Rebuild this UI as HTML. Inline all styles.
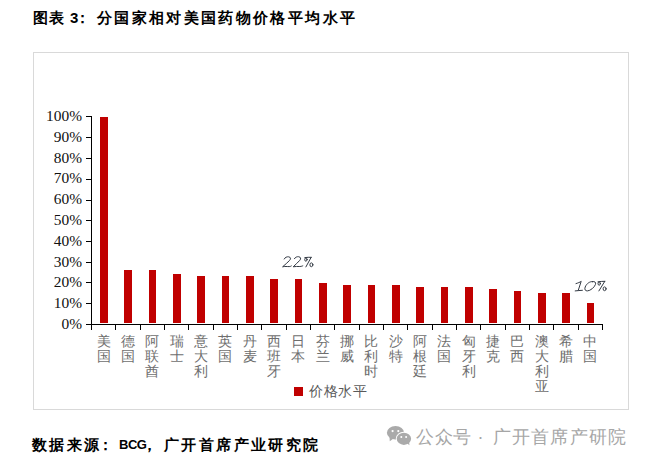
<!DOCTYPE html>
<html><head><meta charset="utf-8"><style>
html,body{margin:0;padding:0;background:#fff;}
body{width:646px;height:463px;position:relative;overflow:hidden;font-family:"Liberation Serif",serif;}
.abs{position:absolute;}
.title{position:absolute;left:33px;top:9px;font-size:15px;font-weight:bold;color:#000;letter-spacing:2.35px;white-space:nowrap;line-height:18px;font-family:"Liberation Sans",sans-serif;}
.foot{position:absolute;left:32px;top:435.5px;font-size:15px;font-weight:bold;color:#000;letter-spacing:2.4px;white-space:nowrap;line-height:18px;font-family:"Liberation Sans",sans-serif;}
.frame{position:absolute;left:33px;top:52px;width:594px;height:356px;border:1px solid #d9d9d9;}
.yl{position:absolute;right:564px;font-size:15.4px;line-height:17px;color:#111;white-space:nowrap;font-family:"Liberation Serif",serif;}
.cat{position:absolute;top:334px;width:16px;text-align:center;font-size:14px;line-height:14.9px;color:#6e6e6e;font-family:"Liberation Sans",sans-serif;}
.cat span{display:block;}
.ann{position:absolute;font-style:italic;font-size:17px;color:#333;font-family:"Liberation Serif",serif;letter-spacing:0px;white-space:nowrap;line-height:16px;}
.leg{position:absolute;left:309px;top:383px;font-size:14px;line-height:16px;letter-spacing:0.5px;color:#595959;font-family:"Liberation Sans",sans-serif;white-space:nowrap;}
.wm{position:absolute;left:416px;top:427px;font-size:18px;line-height:21px;color:#a6a6a6;letter-spacing:0.6px;white-space:nowrap;font-family:"Liberation Sans",sans-serif;}
svg{position:absolute;left:0;top:0;}
.t2{letter-spacing:0;}
.bcg{letter-spacing:-0.5px;font-size:13px;}
</style></head><body>
<div class="title" style="left:33px;letter-spacing:0.5px">图表</div><div class="title t2" style="left:70px">3</div><div class="title t2" style="left:75px">：</div><div class="title" style="left:97px">分国家相对美国药物价格平均水平</div>
<div class="frame"></div>
<svg width="646" height="463" viewBox="0 0 646 463" shape-rendering="crispEdges">
<rect x="100.07" y="117.00" width="7.6" height="206" fill="#c00000"/><rect x="124.40" y="270.00" width="7.6" height="53" fill="#c00000"/><rect x="148.73" y="270.00" width="7.6" height="53" fill="#c00000"/><rect x="173.07" y="274.00" width="7.6" height="49" fill="#c00000"/><rect x="197.40" y="276.00" width="7.6" height="47" fill="#c00000"/><rect x="221.73" y="276.00" width="7.6" height="47" fill="#c00000"/><rect x="246.07" y="276.00" width="7.6" height="47" fill="#c00000"/><rect x="270.40" y="279.00" width="7.6" height="44" fill="#c00000"/><rect x="294.73" y="279.00" width="7.6" height="44" fill="#c00000"/><rect x="319.07" y="283.00" width="7.6" height="40" fill="#c00000"/><rect x="343.40" y="285.00" width="7.6" height="38" fill="#c00000"/><rect x="367.73" y="285.00" width="7.6" height="38" fill="#c00000"/><rect x="392.07" y="285.00" width="7.6" height="38" fill="#c00000"/><rect x="416.40" y="287.00" width="7.6" height="36" fill="#c00000"/><rect x="440.73" y="287.00" width="7.6" height="36" fill="#c00000"/><rect x="465.07" y="287.00" width="7.6" height="36" fill="#c00000"/><rect x="489.40" y="289.00" width="7.6" height="34" fill="#c00000"/><rect x="513.73" y="291.00" width="7.6" height="32" fill="#c00000"/><rect x="538.07" y="293.00" width="7.6" height="30" fill="#c00000"/><rect x="562.40" y="293.00" width="7.6" height="30" fill="#c00000"/><rect x="586.73" y="303.00" width="7.6" height="20" fill="#c00000"/><line x1="91.5" y1="116.5" x2="91.5" y2="330.0" stroke="#000" stroke-width="1"/><line x1="86" y1="324.5" x2="91.5" y2="324.5" stroke="#000" stroke-width="1"/><line x1="86" y1="303.5" x2="91.5" y2="303.5" stroke="#000" stroke-width="1"/><line x1="86" y1="282.5" x2="91.5" y2="282.5" stroke="#000" stroke-width="1"/><line x1="86" y1="262.5" x2="91.5" y2="262.5" stroke="#000" stroke-width="1"/><line x1="86" y1="241.5" x2="91.5" y2="241.5" stroke="#000" stroke-width="1"/><line x1="86" y1="220.5" x2="91.5" y2="220.5" stroke="#000" stroke-width="1"/><line x1="86" y1="200.5" x2="91.5" y2="200.5" stroke="#000" stroke-width="1"/><line x1="86" y1="179.5" x2="91.5" y2="179.5" stroke="#000" stroke-width="1"/><line x1="86" y1="158.5" x2="91.5" y2="158.5" stroke="#000" stroke-width="1"/><line x1="86" y1="137.5" x2="91.5" y2="137.5" stroke="#000" stroke-width="1"/><line x1="86" y1="116.5" x2="91.5" y2="116.5" stroke="#000" stroke-width="1"/><line x1="91.5" y1="324.5" x2="603.0" y2="324.5" stroke="#000" stroke-width="1"/><line x1="91.5" y1="324.5" x2="91.5" y2="330.0" stroke="#000" stroke-width="1"/><line x1="115.5" y1="324.5" x2="115.5" y2="330.0" stroke="#000" stroke-width="1"/><line x1="140.5" y1="324.5" x2="140.5" y2="330.0" stroke="#000" stroke-width="1"/><line x1="164.5" y1="324.5" x2="164.5" y2="330.0" stroke="#000" stroke-width="1"/><line x1="188.5" y1="324.5" x2="188.5" y2="330.0" stroke="#000" stroke-width="1"/><line x1="213.5" y1="324.5" x2="213.5" y2="330.0" stroke="#000" stroke-width="1"/><line x1="237.5" y1="324.5" x2="237.5" y2="330.0" stroke="#000" stroke-width="1"/><line x1="261.5" y1="324.5" x2="261.5" y2="330.0" stroke="#000" stroke-width="1"/><line x1="286.5" y1="324.5" x2="286.5" y2="330.0" stroke="#000" stroke-width="1"/><line x1="310.5" y1="324.5" x2="310.5" y2="330.0" stroke="#000" stroke-width="1"/><line x1="334.5" y1="324.5" x2="334.5" y2="330.0" stroke="#000" stroke-width="1"/><line x1="359.5" y1="324.5" x2="359.5" y2="330.0" stroke="#000" stroke-width="1"/><line x1="383.5" y1="324.5" x2="383.5" y2="330.0" stroke="#000" stroke-width="1"/><line x1="407.5" y1="324.5" x2="407.5" y2="330.0" stroke="#000" stroke-width="1"/><line x1="432.5" y1="324.5" x2="432.5" y2="330.0" stroke="#000" stroke-width="1"/><line x1="456.5" y1="324.5" x2="456.5" y2="330.0" stroke="#000" stroke-width="1"/><line x1="480.5" y1="324.5" x2="480.5" y2="330.0" stroke="#000" stroke-width="1"/><line x1="505.5" y1="324.5" x2="505.5" y2="330.0" stroke="#000" stroke-width="1"/><line x1="529.5" y1="324.5" x2="529.5" y2="330.0" stroke="#000" stroke-width="1"/><line x1="553.5" y1="324.5" x2="553.5" y2="330.0" stroke="#000" stroke-width="1"/><line x1="578.5" y1="324.5" x2="578.5" y2="330.0" stroke="#000" stroke-width="1"/><line x1="602.5" y1="324.5" x2="602.5" y2="330.0" stroke="#000" stroke-width="1"/><rect x="294" y="387" width="9" height="9" fill="#c00000"/><g shape-rendering="geometricPrecision">
<ellipse cx="395.5" cy="432.7" rx="8.6" ry="6.7" fill="#aaaaaa"/>
<path d="M389.5 437 L389.8 441.2 L393.5 438.5 Z" fill="#aaaaaa"/>
<ellipse cx="403.9" cy="438.8" rx="8.1" ry="7" fill="#fff"/>
<ellipse cx="403.9" cy="438.8" rx="7.2" ry="6.1" fill="#aaaaaa"/>
<path d="M406.5 443 L409.5 445.3 L409 441.5 Z" fill="#aaaaaa"/>
<circle cx="392.6" cy="431.1" r="1.1" fill="#fff"/><circle cx="398.3" cy="431.1" r="1.1" fill="#fff"/>
<circle cx="401.3" cy="437" r="1" fill="#fff"/><circle cx="406.1" cy="437" r="1" fill="#fff"/>
</g><g fill="none" stroke="#333a44" stroke-width="1.0" stroke-linecap="round" stroke-linejoin="round" shape-rendering="geometricPrecision">
<path d="M284.2 259 C285 257.3 287 256.6 288.6 256.8 C290.8 257.1 291 258.9 289.6 260.4 C287.6 262.6 285 264.6 282.6 266.8 C284.6 266.2 287.5 266.6 289.2 266.6 C290.2 266.6 290.9 266.3 291.3 266"/>
<path d="M294.4 258.7 C295.3 257.2 297 256.5 298.6 256.7 C300.8 257 301.2 258.8 299.8 260.3 C297.8 262.5 295.5 264.6 293.2 266.8 C295.2 266.2 298 266.6 299.8 266.5 C301.6 266.4 302.2 266.1 302.8 265.8"/>
<path d="M311.2 257.3 L305.9 266.9"/>
<path d="M304.8 257.6 C307 257.3 309.5 257.2 311.2 257.3"/>
<ellipse cx="305.9" cy="259.6" rx="1.2" ry="1.6"/>
<ellipse cx="311.4" cy="264.8" rx="1.5" ry="1.9"/>
<path d="M576 283.6 C578 283 580 282.2 581.2 281.3 L578.2 290.5"/>
<path d="M575.2 290.9 C577.5 290.6 580 290.5 582.4 290.3"/>
<path d="M592.5 281.6 C590 281.2 586.5 283.6 585.2 287 C584.2 289.6 585.4 291 587.4 290.9 C590.5 290.7 594.2 287.5 595.4 284.6 C596.3 282.3 594.8 281.2 592.5 281.6 Z"/>
<path d="M604.8 281.3 L598.9 290.9"/>
<path d="M598 281.8 C600.5 281.4 603 281.3 604.8 281.3"/>
<ellipse cx="599.2" cy="283.6" rx="1.2" ry="1.6"/>
<ellipse cx="604.6" cy="288.8" rx="1.5" ry="1.9"/>
</g>
</svg>
<div class="yl" style="top:315.00px">0%</div><div class="yl" style="top:294.20px">10%</div><div class="yl" style="top:273.40px">20%</div><div class="yl" style="top:252.60px">30%</div><div class="yl" style="top:231.80px">40%</div><div class="yl" style="top:211.00px">50%</div><div class="yl" style="top:190.20px">60%</div><div class="yl" style="top:169.40px">70%</div><div class="yl" style="top:148.60px">80%</div><div class="yl" style="top:127.80px">90%</div><div class="yl" style="top:107.00px">100%</div>
<div class="cat" style="left:95.7px"><span>美</span><span>国</span></div><div class="cat" style="left:120.0px"><span>德</span><span>国</span></div><div class="cat" style="left:144.3px"><span>阿</span><span>联</span><span>酋</span></div><div class="cat" style="left:168.7px"><span>瑞</span><span>士</span></div><div class="cat" style="left:193.0px"><span>意</span><span>大</span><span>利</span></div><div class="cat" style="left:217.3px"><span>英</span><span>国</span></div><div class="cat" style="left:241.7px"><span>丹</span><span>麦</span></div><div class="cat" style="left:266.0px"><span>西</span><span>班</span><span>牙</span></div><div class="cat" style="left:290.3px"><span>日</span><span>本</span></div><div class="cat" style="left:314.7px"><span>芬</span><span>兰</span></div><div class="cat" style="left:339.0px"><span>挪</span><span>威</span></div><div class="cat" style="left:363.3px"><span>比</span><span>利</span><span>时</span></div><div class="cat" style="left:387.7px"><span>沙</span><span>特</span></div><div class="cat" style="left:412.0px"><span>阿</span><span>根</span><span>廷</span></div><div class="cat" style="left:436.3px"><span>法</span><span>国</span></div><div class="cat" style="left:460.7px"><span>匈</span><span>牙</span><span>利</span></div><div class="cat" style="left:485.0px"><span>捷</span><span>克</span></div><div class="cat" style="left:509.3px"><span>巴</span><span>西</span></div><div class="cat" style="left:533.7px"><span>澳</span><span>大</span><span>利</span><span>亚</span></div><div class="cat" style="left:558.0px"><span>希</span><span>腊</span></div><div class="cat" style="left:582.3px"><span>中</span><span>国</span></div>
<div class="leg">价格水平</div>
<div class="foot" style="left:32px">数据来源</div><div class="foot t2" style="left:98px">：</div><div class="foot bcg" style="left:119px">BCG</div><div class="foot t2" style="left:142px">，</div><div class="foot" style="left:164px">广开首席产业研究院</div>
<div class="wm" style="left:416px">公众号 ·</div><div class="wm" style="left:492.5px;letter-spacing:1.3px">广开首席产研院</div>
</body></html>
